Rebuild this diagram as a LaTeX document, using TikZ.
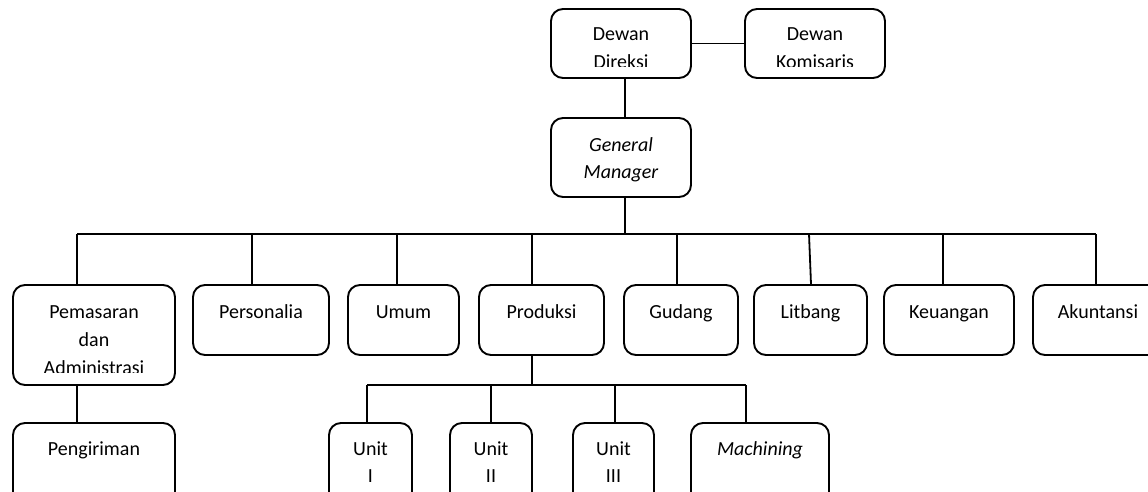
\documentclass[tikz,border=0pt]{standalone}
\usepackage{fontspec}
\setmainfont{Carlito}
\usetikzlibrary{calc}
\tikzset{
  box/.style={draw, rounded corners=12pt, line width=1.9pt, inner sep=0pt},
  txt/.style={anchor=base, inner sep=0pt, font=\fontsize{20pt}{24pt}\selectfont},
  itxt/.style={txt, font=\fontsize{20pt}{24pt}\selectfont\itshape},
  conn/.style={line width=1.8pt}
}
\begin{document}
\begin{tikzpicture}[x=1pt, y=-1pt]
\useasboundingbox (0,0) rectangle (1148,491);
% top level
\node[box, minimum width=140pt, minimum height=69pt] (dd) at (621,43.5) {};
\node[box, minimum width=140pt, minimum height=69pt] (dk) at (815,43.5) {};
\node[box, minimum width=140pt, minimum height=79pt] (gm) at (621,157.5) {};
% level 2
\node[box, minimum width=162pt, minimum height=100pt] (pm) at (94,335) {};
\node[box, minimum width=136pt, minimum height=70pt] (ps) at (261,320) {};
\node[box, minimum width=111pt, minimum height=70pt] (um) at (403.5,320) {};
\node[box, minimum width=125pt, minimum height=70pt] (pr) at (541.5,320) {};
\node[box, minimum width=114pt, minimum height=70pt] (gd) at (681,320) {};
\node[box, minimum width=113pt, minimum height=70pt] (lb) at (810.5,320) {};
\node[box, minimum width=130pt, minimum height=70pt] (ku) at (949,320) {};
\node[box, minimum width=130pt, minimum height=70pt] (ak) at (1098,320) {};
% level 3
\node[box, minimum width=162pt, minimum height=100pt] (pg) at (94,473) {};
\node[box, minimum width=83pt, minimum height=100pt] (u1) at (370.5,473) {};
\node[box, minimum width=82pt, minimum height=100pt] (u2) at (491,473) {};
\node[box, minimum width=81pt, minimum height=100pt] (u3) at (613.5,473) {};
\node[box, minimum width=138pt, minimum height=100pt] (mc) at (760,473) {};
% texts
\node[txt] (dd1) at (621,40) {Dewan};
\node[txt] (dk1) at (815,40) {Dewan};
\begin{scope}
  \clip (551,9) rectangle (885,66);
  \node[txt] (dd2) at (621,68) {Direksi};
  \node[txt] (dk2) at (815,68) {Komisaris};
\end{scope}
\node[itxt] (gm1) at (621,151) {General};
\node[itxt] (gm2) at (621,178) {Manager};
\node[txt] (pm1) at (94,318) {Pemasaran};
\node[txt] (pm2) at (94,346) {dan};
\begin{scope}
  \clip (13,350) rectangle (175,372);
  \node[txt] (pm3) at (94,374) {Administrasi};
\end{scope}
\node[txt] (ps1) at (261,318) {Personalia};
\node[txt] (um1) at (403.5,318) {Umum};
\node[txt] (pr1) at (541.5,318) {Produksi};
\node[txt] (gd1) at (681,318) {Gudang};
\node[txt] (lb1) at (810.5,318) {Litbang};
\node[txt] (ku1) at (949,318) {Keuangan};
\node[txt] (ak1) at (1098,318) {Akuntansi};
\node[txt] (pg1) at (94,455) {Pengiriman};
\node[txt] (u1a) at (370.5,455) {Unit};
\node[txt] (u1b) at (370.5,482) {I};
\node[txt] (u2a) at (491,455) {Unit};
\node[txt] (u2b) at (491,482) {II};
\node[txt] (u3a) at (613.5,455) {Unit};
\node[txt] (u3b) at (613.5,482) {III};
\node[itxt] (mc1) at (760,455) {Machining};
% connectors
\coordinate (cx) at (625,234);
\draw[conn] (dd.east) -- (dk.west);
\draw[conn] (dd.south -| cx) -- (gm.north -| cx);
\draw[conn] (gm.south -| cx) -- (cx);
\coordinate (b1) at (77,234);
\coordinate (b2) at (252,234);
\coordinate (b3) at (397,234);
\coordinate (b4) at (532,234);
\coordinate (b5) at (677,234);
\coordinate (b6) at (809,234);
\coordinate (b7) at (943,234);
\coordinate (b8) at (1096,234);
\draw[conn] (b1) -- (b8);
\draw[conn] (b1) -- (b1 |- pm.north);
\draw[conn] (b2) -- (b2 |- ps.north);
\draw[conn] (b3) -- (b3 |- um.north);
\draw[conn] (b4) -- (b4 |- pr.north);
\draw[conn] (b5) -- (b5 |- gd.north);
\draw[conn] (b6) -- ($(b6 |- lb.north)+(2,0)$);
\draw[conn] (b7) -- (b7 |- ku.north);
\draw[conn] (b8) -- (b8 |- ak.north);
\draw[conn] (b1 |- pm.south) -- (b1 |- pg.north);
\coordinate (p0) at (532,385);
\coordinate (p1) at (367,385);
\coordinate (p2) at (491,385);
\coordinate (p3) at (615,385);
\coordinate (p4) at (746,385);
\draw[conn] (p0 |- pr.south) -- (p0);
\draw[conn] (p1) -- (p4);
\draw[conn] (p1) -- (p1 |- u1.north);
\draw[conn] (p2) -- (p2 |- u2.north);
\draw[conn] (p3) -- (p3 |- u3.north);
\draw[conn] (p4) -- (p4 |- mc.north);
\end{tikzpicture}
\end{document}
